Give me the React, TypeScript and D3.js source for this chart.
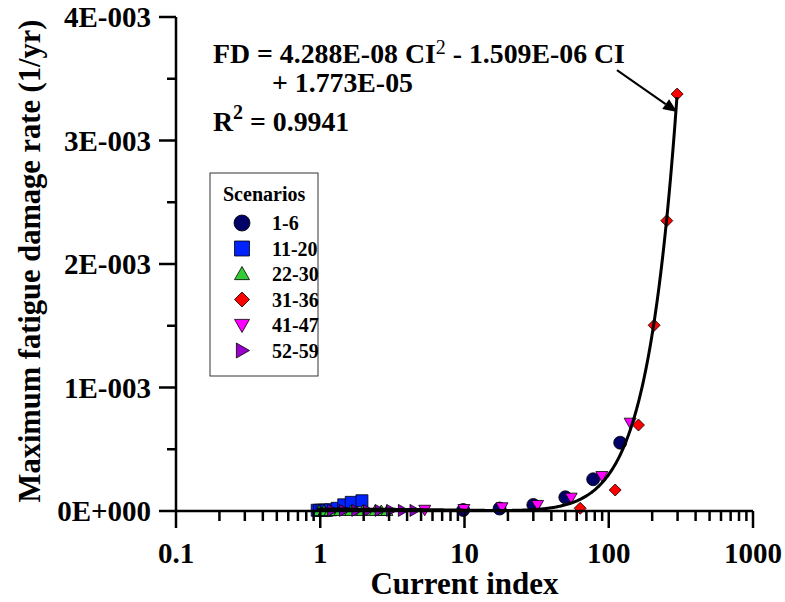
import React from 'react';
import * as d3 from 'd3';

const W = 785;
const H = 602;

// Axis ticks
const xTickValues = [0.1, 1, 10, 100, 1000];
const xTickLabels = ['0.1', '1', '10', '100', '1000'];
const yTickValues = [0, 1e-3, 2e-3, 3e-3, 4e-3];
const yTickLabels = ['0E+000', '1E-003', '2E-003', '3E-003', '4E-003'];
const yMinorValues = [0.5e-3, 1.5e-3, 2.5e-3, 3.5e-3];

// Series data (Current index, fatigue damage rate)
const ci_1_6 = [9.8, 17.5, 30, 50, 78, 120];
const fd_1_6 = [0.008e-3, 0.02e-3, 0.049e-3, 0.111e-3, 0.257e-3, 0.553e-3];

const ci_11_20 = [0.953, 0.99, 1.03, 1.07, 1.11, 1.18, 1.31, 1.455, 1.64, 1.945];
const fd_11_20 = [0.006e-3, 0.006e-3, 0.006e-3, 0.006e-3, 0.006e-3, 0.01e-3, 0.022e-3, 0.05e-3, 0.07e-3, 0.083e-3];

const ci_22_30 = [0.98, 1.06, 1.17, 1.37, 1.63, 1.97, 2.4, 2.65, 2.9];
const fd_22_30 = [0, 0, 0, 0, 0, 0, 0, 0, 0];

const ci_31_36 = [63.4, 110.8, 160.7, 206.4, 252.7, 298];
const fd_31_36 = [0.022e-3, 0.17e-3, 0.696e-3, 1.504e-3, 2.351e-3, 3.376e-3];

const ci_41_47 = [5.3, 9.9, 18.2, 32.1, 54.9, 89.6, 140.7];
const fd_41_47 = [0.01e-3, 0.016e-3, 0.03e-3, 0.049e-3, 0.108e-3, 0.283e-3, 0.715e-3];

const ci_52_59 = [1.21, 1.46, 1.78, 2.14, 2.58, 3.1, 3.74, 4.5];
const fd_52_59 = [0.005e-3, 0.005e-3, 0.005e-3, 0.005e-3, 0.005e-3, 0.005e-3, 0.005e-3, 0.005e-3];

const seriesNames = ['1-6', '11-20', '22-30', '31-36', '41-47', '52-59'];
const seriesColors = ['#000066', '#0022ff', '#33cc33', '#ff0000', '#ff00ff', '#9900cc'];
const seriesShapes = ['circle', 'square', 'triUp', 'diamond', 'triDown', 'triRight'];
const seriesX = [ci_1_6, ci_11_20, ci_22_30, ci_31_36, ci_41_47, ci_52_59];
const seriesY = [fd_1_6, fd_11_20, fd_22_30, fd_31_36, fd_41_47, fd_52_59];

// Fit: FD = a CI^2 + b CI + c
const fitA = 4.288e-8;
const fitB = -1.509e-6;
const fitC = 1.773e-5;
const fitRange = [0.95, 297];

// Arrow annotation, in data units
const arrowFrom = [114, 3.57e-3];
const arrowTo = [298, 3.23e-3];

const FONT = '"Liberation Serif", "Times New Roman", serif';

function shapePath(shape: string, cx: number, cy: number, s: number): string {
  const h = s / 2;
  switch (shape) {
    case 'circle':
      return `M${cx - h},${cy}A${h},${h} 0 1,0 ${cx + h},${cy}A${h},${h} 0 1,0 ${cx - h},${cy}Z`;
    case 'square':
      return `M${cx - h},${cy - h}H${cx + h}V${cy + h}H${cx - h}Z`;
    case 'triUp':
      return `M${cx},${cy - h}L${cx + h},${cy + h * 0.75}L${cx - h},${cy + h * 0.75}Z`;
    case 'triDown':
      return `M${cx - h},${cy - h * 0.75}L${cx + h},${cy - h * 0.75}L${cx},${cy + h}Z`;
    case 'triRight':
      return `M${cx - h * 0.75},${cy - h}L${cx + h},${cy}L${cx - h * 0.75},${cy + h}Z`;
    case 'diamond':
    default:
      return `M${cx},${cy - h}L${cx + h},${cy}L${cx},${cy + h}L${cx - h},${cy}Z`;
  }
}

export default function App() {
  const x = d3.scaleLog().domain([0.1, 1000]).range([176, 753]);
  const y = d3.scaleLinear().domain([0, 4e-3]).range([511, 17]);

  const xMinor: number[] = [];
  for (let dec = 0.1; dec < 1000; dec *= 10) {
    for (let k = 2; k <= 9; k++) xMinor.push(dec * k);
  }

  const fitPts = d3.range(0, 401).map((i) => {
    const lo = Math.log10(fitRange[0]);
    const hi = Math.log10(fitRange[1]);
    const c = Math.pow(10, lo + ((hi - lo) * i) / 400);
    return [c, fitA * c * c + fitB * c + fitC] as [number, number];
  });
  const line = d3
    .line<[number, number]>()
    .x((d) => x(d[0]))
    .y((d) => y(d[1]));

  const markerSize = [13, 12, 12, 12, 12, 12];
  const legendSize = [16, 15, 15, 15, 15, 15];

  const ax1 = x(arrowFrom[0]);
  const ay1 = y(arrowFrom[1]);
  const ax2 = x(arrowTo[0]);
  const ay2 = y(arrowTo[1]);
  const ang = Math.atan2(ay2 - ay1, ax2 - ax1);
  const headLen = 14;
  const headW = 6;
  const bx = ax2 - headLen * Math.cos(ang);
  const by = ay2 - headLen * Math.sin(ang);
  const px = -Math.sin(ang) * headW;
  const py = Math.cos(ang) * headW;

  const legendX = 210;
  const legendY = 173;
  const legendW = 108;
  const legendH = 203;
  const legendRow0 = 223;
  const legendStep = 25.5;

  return (
    <svg
      width={W}
      height={H}
      style={{ position: 'absolute', left: 0, top: 0, background: '#fff' }}
      fontFamily={FONT}
      fontWeight="bold"
    >
      <rect x={0} y={0} width={W} height={H} fill="#fff" />

      {/* markers */}
      {seriesX.map((xs, si) => (
        <g key={si}>
          {xs.map((v, i) => (
            <path
              key={i}
              d={shapePath(seriesShapes[si], x(v), y(seriesY[si][i]), markerSize[si])}
              fill={seriesColors[si]}
              stroke="#000"
              strokeWidth={0.8}
            />
          ))}
        </g>
      ))}

      {/* axes */}
      <g stroke="#000" strokeWidth={2.5} fill="none">
        <line x1={176} y1={y(4e-3)} x2={176} y2={512} />
        <line x1={175} y1={511} x2={x(1000)} y2={511} />
        {yTickValues.map((v, i) => (
          <line key={'yt' + i} x1={159} x2={176} y1={y(v)} y2={y(v)} />
        ))}
        {yMinorValues.map((v, i) => (
          <line key={'ym' + i} x1={167} x2={176} y1={y(v)} y2={y(v)} />
        ))}
        {xTickValues.map((v, i) => (
          <line key={'xt' + i} x1={x(v)} x2={x(v)} y1={511} y2={528} />
        ))}
        {xMinor.map((v, i) => (
          <line key={'xm' + i} x1={x(v)} x2={x(v)} y1={511} y2={521} />
        ))}
      </g>

      {/* fit curve */}
      <path d={line(fitPts) || ''} fill="none" stroke="#000" strokeWidth={3} />

      {/* arrow */}
      <line x1={ax1} y1={ay1} x2={bx} y2={by} stroke="#000" strokeWidth={2} />
      <path
        d={`M${ax2},${ay2}L${bx + px},${by + py}L${bx - px},${by - py}Z`}
        fill="#000"
      />

      {/* tick labels */}
      {yTickValues.map((v, i) => (
        <text key={'yl' + i} x={151} y={y(v) + 10} fontSize={29} textAnchor="end">
          {yTickLabels[i]}
        </text>
      ))}
      {xTickValues.map((v, i) => (
        <text key={'xl' + i} x={x(v)} y={563} fontSize={29} textAnchor="middle">
          {xTickLabels[i]}
        </text>
      ))}

      {/* axis titles */}
      <text x={x(10)} y={594} fontSize={31} textAnchor="middle">
        Current index
      </text>
      <text
        transform={`translate(40,${261}) rotate(-90)`}
        fontSize={30.5}
        textAnchor="middle"
      >
        Maximum fatigue damage rate (1/yr)
      </text>

      {/* equation */}
      <text x={213} y={63} fontSize={27.8}>
        FD = 4.288E-08 CI
        <tspan fontSize={20} fontWeight="normal" dy={-9}>2</tspan>
        <tspan dy={9}> - 1.509E-06 CI</tspan>
      </text>
      <text x={272} y={92} fontSize={27.8}>
        + 1.773E-05
      </text>
      <text x={213} y={131} fontSize={27.8}>
        R<tspan fontSize={20} dy={-12}>2</tspan>
        <tspan dy={12}> = 0.9941</tspan>
      </text>

      {/* legend */}
      <rect
        x={legendX}
        y={legendY}
        width={legendW}
        height={legendH}
        fill="#fff"
        stroke="#333"
        strokeWidth={1}
      />
      <text x={223} y={201} fontSize={20}>
        Scenarios
      </text>
      {seriesNames.map((name, i) => {
        const cy = legendRow0 + i * legendStep;
        return (
          <g key={'lg' + i}>
            <path
              d={shapePath(seriesShapes[i], 242, cy, legendSize[i])}
              fill={seriesColors[i]}
              stroke="#000"
              strokeWidth={0.8}
            />
            <text x={272} y={cy + 7} fontSize={20}>
              {name}
            </text>
          </g>
        );
      })}
    </svg>
  );
}
